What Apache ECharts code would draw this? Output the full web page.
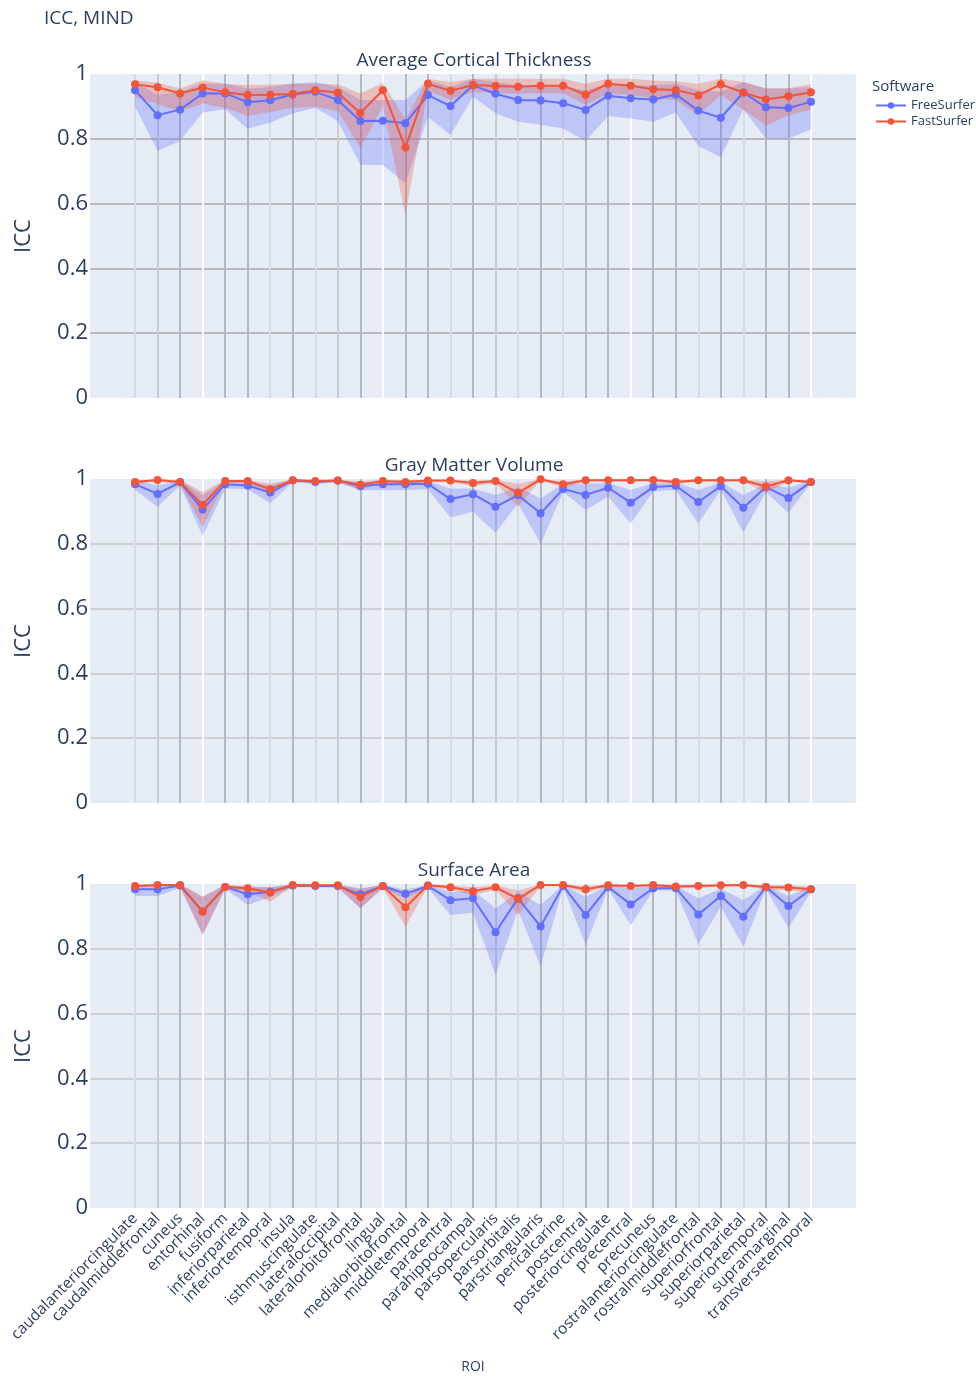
<!DOCTYPE html>
<html>
<head>
<meta charset="utf-8">
<script src="https://cdn.jsdelivr.net/npm/echarts@6/dist/echarts.min.js"></script>
<style>
  html, body { margin: 0; padding: 0; background: #ffffff; }
  #chart { width: 976px; height: 1376px; }
</style>
</head>
<body>
<div id="chart"></div>
<script>
// Regions of interest (Desikan-Killiany cortical parcels)
const categories = [
  'caudalanteriorcingulate', 'caudalmiddlefrontal', 'cuneus', 'entorhinal', 'fusiform',
  'inferiorparietal', 'inferiortemporal', 'insula', 'isthmuscingulate', 'lateraloccipital',
  'lateralorbitofrontal', 'lingual', 'medialorbitofrontal', 'middletemporal', 'paracentral',
  'parahippocampal', 'parsopercularis', 'parsorbitalis', 'parstriangularis', 'pericalcarine',
  'postcentral', 'posteriorcingulate', 'precentral', 'precuneus', 'rostralanteriorcingulate',
  'rostralmiddlefrontal', 'superiorfrontal', 'superiorparietal', 'superiortemporal',
  'supramarginal', 'transversetemporal'
];

const panelTitles = ['Average Cortical Thickness', 'Gray Matter Volume', 'Surface Area'];
const yTicks = [0, 0.2, 0.4, 0.6, 0.8, 1];

// Average cortical thickness: ICC and confidence bounds
const thickFree   = [0.950,0.873,0.890,0.940,0.940,0.913,0.919,0.937,0.945,0.920,0.855,0.856,0.848,0.935,0.901,0.965,0.939,0.920,0.918,0.910,0.889,0.933,0.925,0.921,0.937,0.887,0.865,0.943,0.897,0.895,0.914];
const thickFreeLo = [0.900,0.762,0.793,0.881,0.891,0.831,0.850,0.879,0.896,0.855,0.719,0.719,0.663,0.868,0.812,0.930,0.879,0.853,0.843,0.832,0.793,0.870,0.863,0.853,0.881,0.778,0.743,0.891,0.801,0.801,0.829];
const thickFreeHi = [0.975,0.935,0.945,0.970,0.970,0.955,0.960,0.970,0.975,0.960,0.920,0.920,0.920,0.980,0.960,0.985,0.975,0.965,0.965,0.960,0.950,0.970,0.965,0.965,0.970,0.950,0.945,0.975,0.955,0.955,0.960];
const thickFast   = [0.968,0.959,0.940,0.958,0.944,0.935,0.936,0.938,0.950,0.942,0.880,0.950,0.773,0.970,0.948,0.966,0.963,0.961,0.964,0.964,0.936,0.970,0.964,0.953,0.951,0.934,0.968,0.943,0.921,0.931,0.944];
const thickFastLo = [0.930,0.907,0.884,0.909,0.895,0.871,0.883,0.896,0.899,0.885,0.772,0.900,0.565,0.950,0.920,0.945,0.940,0.940,0.940,0.940,0.905,0.940,0.935,0.925,0.920,0.873,0.935,0.890,0.841,0.873,0.889];
const thickFastHi = [0.981,0.973,0.955,0.981,0.970,0.966,0.967,0.970,0.970,0.968,0.940,0.973,0.860,0.985,0.975,0.985,0.985,0.985,0.985,0.985,0.970,0.985,0.985,0.980,0.978,0.970,0.985,0.975,0.956,0.956,0.969];

// Gray matter volume
const gmvFree   = [0.984,0.954,0.990,0.906,0.984,0.980,0.958,0.996,0.991,0.995,0.978,0.984,0.984,0.985,0.938,0.953,0.914,0.950,0.894,0.969,0.951,0.973,0.927,0.975,0.979,0.929,0.978,0.911,0.975,0.941,0.991];
const gmvFreeLo = [0.966,0.914,0.980,0.824,0.971,0.968,0.925,0.990,0.985,0.990,0.966,0.965,0.966,0.968,0.881,0.899,0.834,0.925,0.799,0.960,0.904,0.946,0.863,0.962,0.966,0.863,0.966,0.834,0.960,0.895,0.988];
const gmvFreeHi = [0.995,0.980,0.996,0.950,0.994,0.990,0.980,0.999,0.996,0.998,0.988,0.993,0.993,0.994,0.971,0.971,0.951,0.975,0.940,0.985,0.985,0.988,0.966,0.988,0.990,0.966,0.990,0.951,0.985,0.973,0.995];
const gmvFast   = [0.991,0.997,0.991,0.920,0.994,0.994,0.968,0.996,0.994,0.995,0.982,0.994,0.991,0.995,0.995,0.988,0.994,0.957,0.999,0.984,0.996,0.996,0.996,0.997,0.991,0.996,0.996,0.996,0.977,0.996,0.991];
const gmvFastLo = [0.982,0.993,0.983,0.853,0.988,0.988,0.951,0.992,0.988,0.990,0.966,0.988,0.984,0.990,0.990,0.978,0.988,0.914,0.997,0.972,0.992,0.992,0.992,0.994,0.984,0.992,0.992,0.992,0.957,0.992,0.985];
const gmvFastHi = [0.997,0.999,0.997,0.960,0.998,0.998,0.985,0.999,0.998,0.998,0.993,0.998,0.997,0.998,0.998,0.995,0.998,0.985,1.000,0.993,0.999,0.999,0.999,0.999,0.997,0.999,0.999,0.999,0.992,0.999,0.996];

// Surface area
const areaFree   = [0.984,0.984,0.995,0.915,0.991,0.968,0.976,0.995,0.994,0.994,0.968,0.994,0.970,0.994,0.950,0.956,0.851,0.956,0.869,0.994,0.904,0.991,0.937,0.987,0.987,0.906,0.963,0.899,0.991,0.932,0.984];
const areaFreeLo = [0.963,0.963,0.988,0.843,0.985,0.935,0.960,0.990,0.990,0.988,0.925,0.988,0.955,0.988,0.904,0.911,0.719,0.920,0.745,0.990,0.812,0.985,0.873,0.980,0.980,0.814,0.930,0.807,0.985,0.865,0.975];
const areaFreeHi = [0.995,0.995,0.999,0.961,0.997,0.990,0.990,0.999,0.998,0.998,0.985,0.998,0.982,0.998,0.975,0.980,0.925,0.975,0.935,0.998,0.960,0.996,0.985,0.995,0.995,0.956,0.985,0.951,0.996,0.963,0.992];
const areaFast   = [0.994,0.997,0.997,0.915,0.991,0.987,0.974,0.997,0.996,0.996,0.960,0.994,0.928,0.996,0.990,0.978,0.990,0.954,0.997,0.997,0.984,0.996,0.994,0.997,0.992,0.994,0.996,0.997,0.991,0.989,0.984];
const areaFastLo = [0.988,0.993,0.993,0.843,0.985,0.978,0.945,0.993,0.992,0.992,0.925,0.988,0.868,0.992,0.982,0.965,0.982,0.904,0.993,0.993,0.972,0.992,0.988,0.993,0.986,0.988,0.992,0.993,0.982,0.980,0.975];
const areaFastHi = [0.998,0.999,0.999,0.961,0.997,0.994,0.990,0.999,0.999,0.999,0.985,0.998,0.960,0.999,0.996,0.990,0.996,0.980,0.999,0.999,0.993,0.999,0.998,0.999,0.997,0.998,0.999,0.999,0.996,0.995,0.992];

const panels = [
  { free: thickFree, freeLo: thickFreeLo, freeHi: thickFreeHi, fast: thickFast, fastLo: thickFastLo, fastHi: thickFastHi },
  { free: gmvFree,   freeLo: gmvFreeLo,   freeHi: gmvFreeHi,   fast: gmvFast,   fastLo: gmvFastLo,   fastHi: gmvFastHi },
  { free: areaFree,  freeLo: areaFreeLo,  freeHi: areaFreeHi,  fast: areaFast,  fastLo: areaFastLo,  fastHi: areaFastHi }
];

const FONT = '"Open Sans", "Noto Sans", "DejaVu Sans", sans-serif';
const TEXT = '#2a3f5f';
const BLUE = '#636efa';
const RED = '#ef553b';
const BLUE_FILL = 'rgba(99,110,250,0.3)';
const RED_FILL = 'rgba(239,85,59,0.3)';

// Per-ROI vertical rule shades (ticks run from -2 up to 32)
const D = '#b6b8bc', M = '#c8cbd0', L = '#d6dbe3', W = '#ffffff', T = 'rgba(0,0,0,0)';
const roiShades = [L, M, D, W, D, D, L, D, L, M, D, W, D, D, L, D, M, L, D, L, D, D, W, D, D, L, D, L, D, D, W];
const vLineColors = [T, T].concat(roiShades, [T, T, T]);

const gridTops = [74, 479, 884];
const PLOT_H = 324;

const grids = gridTops.map(t => ({
  left: 90, top: t, width: 766, height: PLOT_H,
  show: true, backgroundColor: '#e5ecf6', borderWidth: 0
}));

const xAxes = gridTops.map((t, k) => ({
  type: 'value', gridIndex: k, min: -2, max: 32, interval: 1,
  axisLine: { show: false }, axisTick: { show: false },
  splitLine: { show: true, lineStyle: { color: vLineColors, width: 2 } },
  axisLabel: k === 2 ? {
    show: true, rotate: 45, margin: 8, fontSize: 15.5, color: TEXT, fontFamily: FONT,
    formatter: v => (Number.isInteger(v) && v >= 0 && v < categories.length) ? categories[v] : ''
  } : { show: false },
  name: k === 2 ? 'ROI' : '',
  nameLocation: 'middle', nameGap: 152,
  nameTextStyle: { fontSize: 14, color: TEXT, fontFamily: FONT }
}));

const yAxes = gridTops.map((t, k) => ({
  type: 'value', gridIndex: k, min: 0, max: 1, interval: 0.2,
  axisLine: { show: false }, axisTick: { show: false },
  splitLine: { show: true, showMinLine: false, showMaxLine: false,
    lineStyle: { color: k === 0 ? '#b9babd' : '#cfd1d6', width: 2 } },
  axisLabel: { fontSize: 22, color: TEXT, fontFamily: FONT, margin: 2,
    formatter: v => String(yTicks.find(t => Math.abs(t - v) < 1e-9) ?? v) },
  name: 'ICC', nameLocation: 'middle', nameRotate: 90, nameGap: 55,
  nameTextStyle: { fontSize: 22, color: TEXT, fontFamily: FONT }
}));

const pts = arr => arr.map((v, i) => [i, v]);

// Confidence band: one filled polygon running along the upper bound and back along the lower bound
function band(k, lo, hi, fill, key) {
  return {
    type: 'custom', name: key + ' band ' + k, xAxisIndex: k, yAxisIndex: k,
    data: [[0, lo[0]]], silent: true, z: 1, clip: true,
    renderItem: (params, api) => {
      const upper = hi.map((v, i) => api.coord([i, v]));
      const lower = lo.map((v, i) => api.coord([i, v])).reverse();
      return {
        type: 'polygon',
        shape: { points: upper.concat(lower) },
        style: { fill: fill, stroke: null },
        clipPath: {
          type: 'rect',
          shape: { x: params.coordSys.x, y: params.coordSys.y, width: params.coordSys.width, height: params.coordSys.height }
        }
      };
    }
  };
}

function trace(k, name, vals, color, z) {
  return { type: 'line', name, xAxisIndex: k, yAxisIndex: k, data: pts(vals),
    symbol: 'circle', symbolSize: 8, showSymbol: true,
    lineStyle: { color, width: 2 }, itemStyle: { color }, z };
}

const series = [];
panels.forEach((p, k) => {
  series.push(band(k, p.freeLo, p.freeHi, BLUE_FILL, 'free'));
  series.push(band(k, p.fastLo, p.fastHi, RED_FILL, 'fast'));
  series.push(trace(k, 'FreeSurfer', p.free, BLUE, 3));
  series.push(trace(k, 'FastSurfer', p.fast, RED, 4));
});

const titleTexts = panelTitles.map((t, k) => ({
  type: 'text', x: 474, y: gridTops[k] - 13,
  style: { text: t, fill: TEXT, font: '19px ' + FONT, textAlign: 'center', textVerticalAlign: 'middle' }
}));

const option = {
  animation: false,
  backgroundColor: '#ffffff',
  title: { text: 'ICC, MIND', left: 44, top: 9, padding: 0,
    textStyle: { fontSize: 19, fontWeight: 'normal', color: TEXT, fontFamily: FONT } },
  legend: {
    data: ['FreeSurfer', 'FastSurfer'], orient: 'vertical', left: 875, top: 99,
    itemWidth: 30, itemHeight: 8, itemGap: 3, padding: 0,
    textStyle: { fontSize: 13, color: TEXT, fontFamily: FONT }
  },
  graphic: titleTexts.concat([{
    type: 'text', x: 872, y: 87,
    style: { text: 'Software', fill: TEXT, font: '15px ' + FONT, textAlign: 'left', textVerticalAlign: 'middle' }
  }]),
  grid: grids,
  xAxis: xAxes,
  yAxis: yAxes,
  series
};

const chart = echarts.init(document.getElementById('chart'), null, { renderer: 'canvas' });
chart.setOption(option);
</script>
</body>
</html>
